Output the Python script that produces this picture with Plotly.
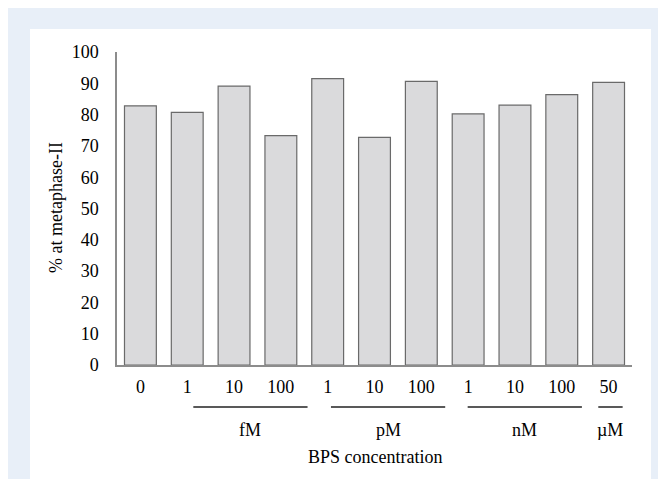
import plotly.graph_objects as go

# ---- data ----
tick_labels = ["0", "1", "10", "100", "1", "10", "100", "1", "10", "100", "50"]
values = [82.8, 80.7, 89.1, 73.3, 91.5, 72.7, 90.6, 80.2, 83.0, 86.4, 90.3]
unit_labels = ["fM", "pM", "nM", "µM"]
unit_spans = [(1.13, 3.57), (4.07, 6.51), (6.99, 9.43), (9.78, 10.30)]
y_ticks = [0, 10, 20, 30, 40, 50, 60, 70, 80, 90, 100]

OFF = 8  # page body margin
W, H = 666 - OFF, 479 - OFF
L, T = 117 - OFF, 52 - OFF
pw, ph = 515, 313
R, B = W - L - pw, H - T - ph

def px(x):
    return (x - OFF - L) / pw

def py(y):
    return (T + ph - (y - OFF)) / ph

FONT = "Liberation Serif, Times New Roman, serif"
FS = 18

x_idx = list(range(len(values)))

fig = go.Figure(go.Bar(
    x=x_idx, y=values,
    marker=dict(color="#dadadc", line=dict(color="#6a6a6a", width=1.2)),
    width=0.68,
    hoverinfo="skip",
))

shapes = [
    dict(type="rect", xref="paper", yref="paper", x0=px(7), x1=px(670), y0=py(483), y1=py(3),
         fillcolor="#e8eff8", line=dict(width=0), layer="below"),
    dict(type="rect", xref="paper", yref="paper", x0=px(30), x1=px(651), y0=py(483), y1=py(29),
         fillcolor="#ffffff", line=dict(width=0), layer="below"),
]
annotations = []
for lab, (a, b) in zip(unit_labels, unit_spans):
    shapes.append(dict(type="line", xref="x", yref="paper", x0=a, x1=b, y0=py(407), y1=py(407),
                       line=dict(color="#595959", width=2)))
    annotations.append(dict(text=lab, xref="x", yref="paper", x=(a + b) / 2, y=py(430),
                            xanchor="center", yanchor="middle", showarrow=False,
                            font=dict(family=FONT, size=FS, color="#000")))
annotations.append(dict(text="BPS concentration", xref="paper", yref="paper", x=px(374.5), y=py(457),
                        xanchor="center", yanchor="middle", showarrow=False,
                        font=dict(family=FONT, size=FS, color="#000")))
annotations.append(dict(text="% at metaphase-II", xref="paper", yref="paper", x=px(56), y=py(208),
                        xanchor="center", yanchor="middle", showarrow=False, textangle=-90,
                        font=dict(family=FONT, size=FS, color="#000")))

fig.update_layout(
    width=W, height=H,
    margin=dict(l=L, r=R, t=T, b=B),
    paper_bgcolor="#ffffff", plot_bgcolor="rgba(0,0,0,0)",
    showlegend=False,
    font=dict(family=FONT, size=FS, color="#000"),
    shapes=shapes, annotations=annotations,
    xaxis=dict(range=[-0.5, len(values) - 0.5], tickvals=x_idx, ticktext=tick_labels,
               showgrid=False, zeroline=False, showline=True, linecolor="#8c8c8c", linewidth=1.5,
               ticks="", ticklabelstandoff=5, fixedrange=True),
    yaxis=dict(range=[0, 100], tickvals=y_ticks, showgrid=False, zeroline=False,
               showline=True, linecolor="#8c8c8c", linewidth=1.5, ticks="",
               ticklabelstandoff=13, fixedrange=True),
)

fig.write_html("out.html")
